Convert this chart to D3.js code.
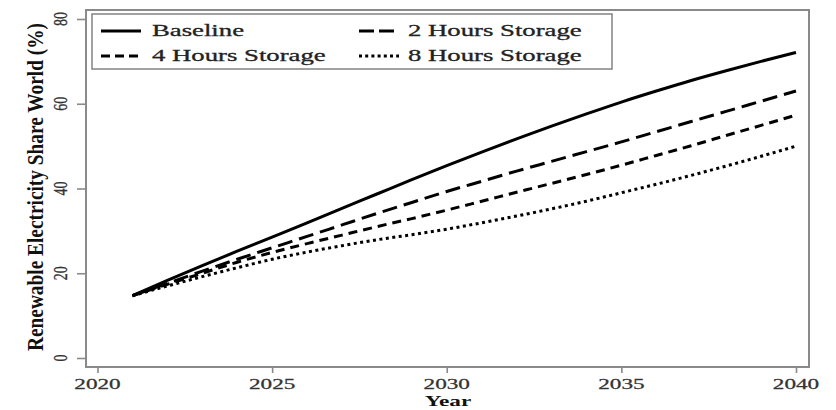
<!DOCTYPE html>
<html><head><meta charset="utf-8">
<script src="https://cdn.jsdelivr.net/npm/d3@7"></script>
<style>body{margin:0;background:#fff}svg{display:block}</style>
</head><body>
<script>
const years = [2021,2022,2023,2024,2025,2026,2027,2028,2029,2030,2031,2032,2033,2034,2035,2036,2037,2038,2039,2040];
const baseline = [14.7,18.3,21.8,25.2,28.5,31.9,35.3,38.7,42.1,45.4,48.6,51.7,54.7,57.6,60.4,63.0,65.5,67.8,70.0,72.1];
const storage2h = [14.7,17.6,20.5,23.3,26.0,28.7,31.4,34.1,36.7,39.3,41.7,44.1,46.4,48.7,51.0,53.4,55.8,58.2,60.6,63.0];
const storage4h = [14.7,17.4,20.0,22.6,24.9,27.0,29.0,31.0,32.9,34.9,37.0,39.1,41.2,43.3,45.5,47.8,50.1,52.5,54.9,57.3];
const storage8h = [14.7,17.0,19.2,21.3,23.3,25.0,26.5,27.9,29.1,30.4,31.9,33.5,35.2,37.0,39.0,41.0,43.1,45.3,47.6,50.0];
const seriesNames = ["Baseline","2 Hours Storage","4 Hours Storage","8 Hours Storage"];
const xTicks = [2020,2025,2030,2035,2040];
const yTicks = [0,20,40,60,80];

const W = 836, H = 410;
const svg = d3.select("body").append("svg").attr("width", W).attr("height", H);
const FONT = "'Liberation Serif','DejaVu Serif',serif";

const frame = {left: 86, top: 10, right: 809, bottom: 367};
const x = d3.scaleLinear().domain([2020, 2040]).range([97.5, 796]);
const y = d3.scaleLinear().domain([0, 80]).range([358, 19]);

// frame
svg.append("rect").attr("x", frame.left).attr("y", frame.top)
  .attr("width", frame.right - frame.left).attr("height", frame.bottom - frame.top)
  .attr("fill", "none").attr("stroke", "#8a8a8a").attr("stroke-width", 2);

// axes ticks
const yAx = svg.append("g").attr("transform", `translate(${frame.left},0)`)
  .call(d3.axisLeft(y).tickValues(yTicks).tickSize(9).tickFormat(""));
const xAx = svg.append("g").attr("transform", `translate(0,${frame.bottom})`)
  .call(d3.axisBottom(x).tickValues(xTicks).tickSize(6).tickFormat(""));
[yAx, xAx].forEach(g => {
  g.select(".domain").remove();
  g.selectAll(".tick line").attr("stroke", "#8a8a8a").attr("stroke-width", 1.6);
});

function stext(sel, tx, ty, str, opts) {
  opts = opts || {};
  const t = sel.append("text")
    .attr("transform", `translate(${tx},${ty}) scale(${opts.sx || 1.5},1)` + (opts.rot ? ` rotate(${opts.rot})` : ""))
    .attr("text-anchor", opts.anchor || "start")
    .attr("font-family", FONT)
    .attr("font-size", opts.size || 13.5)
    .attr("font-weight", opts.weight || "normal")
    .attr("fill", opts.fill || "#333")
    .attr("stroke", opts.stroke || "none")
    .attr("stroke-width", opts.sw || 0)
    .text(str);
  if (opts.len) t.attr("textLength", opts.len).attr("lengthAdjust", "spacingAndGlyphs");
  return t;
}

// tick labels
xTicks.forEach(v => stext(svg, x(v), 389, String(v), {anchor: "middle", size: 14.5, sx: 1.6, stroke: "#333", sw: 0.25}));
yTicks.forEach(v => stext(svg, 67, y(v), String(v), {anchor: "middle", size: 14, sx: 1.4, rot: -90, stroke: "#333", sw: 0.25}));

// axis titles
stext(svg, 448, 406, "Year", {anchor: "middle", size: 15, sx: 1.55, weight: "bold", fill: "#111"});
stext(svg, 43, 187, "Renewable Electricity Share World (%)", {anchor: "middle", size: 15, weight: "bold", fill: "#111", rot: -90, len: 328});

// lines
const dashes = ["none", "15,7", "9,6", "3,3.5"];
const allSeries = [baseline, storage2h, storage4h, storage8h];
const line = d3.line().x(d => x(d[0])).y(d => y(d[1])).curve(d3.curveMonotoneX);
allSeries.forEach((vals, i) => {
  svg.append("path")
    .datum(years.map((yr, j) => [yr, vals[j]]))
    .attr("d", line)
    .attr("fill", "none")
    .attr("stroke", "#000")
    .attr("stroke-width", 3)
    .attr("stroke-dasharray", dashes[i]);
});

// legend
const leg = svg.append("g");
leg.append("rect").attr("x", 92).attr("y", 14).attr("width", 520).attr("height", 55)
  .attr("fill", "#fff").attr("stroke", "#8a8a8a").attr("stroke-width", 1.6);
const legPos = [
  {sx: 101, tx: 152, ty: 36},
  {sx: 359, tx: 408, ty: 36},
  {sx: 101, tx: 152, ty: 61},
  {sx: 359, tx: 408, ty: 61}
];
const legDash = ["none", "15,5", "9,5", "3,3.2"];
seriesNames.forEach((name, i) => {
  const p = legPos[i];
  leg.append("line").attr("x1", p.sx).attr("x2", p.sx + 40)
    .attr("y1", p.ty - 5).attr("y2", p.ty - 5)
    .attr("stroke", "#000").attr("stroke-width", 3).attr("stroke-dasharray", legDash[i]);
  stext(leg, p.tx, p.ty, name, {size: 16.5, sx: 1.62, fill: "#222", stroke: "#222", sw: 0.3});
});
</script>
</body></html>
